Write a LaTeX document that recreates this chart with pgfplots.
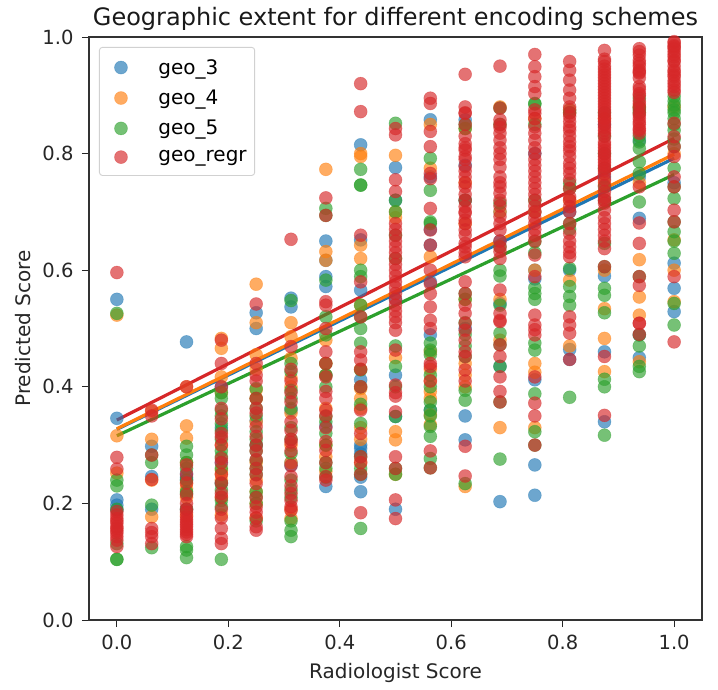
\documentclass[border=0pt]{standalone}
\usepackage{fontspec}
\setmainfont{DejaVu Sans}
\usepackage{pgfplots}
\pgfplotsset{compat=1.18}
\definecolor{tabblue}{HTML}{1F77B4}
\definecolor{taborange}{HTML}{FF7F0E}
\definecolor{tabgreen}{HTML}{2CA02C}
\definecolor{tabred}{HTML}{D62728}
\pgfplotsset{
  dots/.style={only marks, mark=*, mark size=6.5pt, color=#1, mark options={draw=#1, fill=#1, line width=0.6pt, fill opacity=0.65, draw opacity=0.4},
    legend image code/.code={\node[inner sep=0pt, minimum width=46pt, minimum height=2pt, draw=none, fill=none, opacity=0] at (0pt,0pt) {}; \draw[##1] plot coordinates {(16pt,0pt)};}},
  fit/.style={color=#1, line width=3.2pt, no marks, forget plot}
}
\begin{document}
\begin{tikzpicture}
\path[use as bounding box] (-89pt,-69pt) rectangle (629pt,620pt);
\begin{axis}[
  scale only axis, width=613pt, height=583pt,
  xmin=-0.05, xmax=1.05, ymin=0, ymax=1,
  xtick={0,0.2,0.4,0.6,0.8,1.0}, ytick={0,0.2,0.4,0.6,0.8,1.0},
  xticklabels={0.0,0.2,0.4,0.6,0.8,1.0}, yticklabels={0.0,0.2,0.4,0.6,0.8,1.0},
  tick align=outside, tick pos=left, major tick length=7pt,
  every tick/.style={black!85, line width=0.9pt},
  axis line style={black!80, line width=1.2pt},
  tick label style={font=\fontsize{19.5}{23}\selectfont, text=black!85},
  xticklabel style={yshift=-4pt},
  yticklabel style={xshift=-5pt},
  /pgf/number format/assume math mode=true,
  label style={font=\fontsize{20}{24}\selectfont, text=black!85},
  xlabel={Radiologist Score}, ylabel={Predicted Score},
  xlabel shift=7pt, ylabel shift=5pt,
  title={Geographic extent for different encoding schemes},
  title style={font=\fontsize{24}{28}\selectfont, yshift=-3pt, text=black!90},
  clip=true,
  legend style={at={(0.0163,0.983)}, anchor=north west, draw=black!18, line width=0.9pt, rounded corners=3pt,
    font=\fontsize{20}{24}\selectfont, row sep=10.3pt, inner xsep=6pt, inner ysep=10pt,
    /tikz/every odd column/.append style={column sep=5pt}},
  legend cell align=left,
]
\addplot[dots=tabblue] coordinates {
(0,.55)(0,.346)(0,.206)(0,.197)(0,.189)
(.0625,.298)(.0625,.246)(.0625,.19)
(.125,.477)(.125,.251)(.125,.245)(.125,.19)(.125,.24)
(.1875,.40)(.1875,.33)(.1875,.27)(.1875,.235)
(.25,.527)(.25,.50)(.25,.342)(.25,.30)
(.3125,.552)(.3125,.537)(.3125,.27)(.3125,.265)(.3125,.36)
(.375,.65)(.375,.617)(.375,.589)(.375,.572)(.375,.332)(.375,.229)(.375,.42)
(.4375,.815)(.4375,.652)(.4375,.566)(.4375,.412)(.4375,.294)(.4375,.285)(.4375,.245)(.4375,.22)(.4375,.30)
(.5,.776)(.5,.72)(.5,.55)(.5,.349)(.5,.19)(.5,.42)
(.5625,.858)(.5625,.76)(.5625,.67)(.5625,.643)(.5625,.36)(.5625,.489)(.5625,.58)
(.625,.858)(.625,.72)(.625,.35)(.625,.309)(.625,.50)(.625,.78)
(.6875,.543)(.6875,.70)(.6875,.435)(.6875,.203)(.6875,.65)
(.75,.70)(.75,.60)(.75,.585)(.75,.412)(.75,.266)(.75,.214)(.75,.80)
(.8125,.875)(.8125,.60)(.8125,.464)(.8125,.447)(.8125,.70)
(.875,.76)(.875,.59)(.875,.46)(.875,.34)(.875,.85)
(.9375,.823)(.9375,.689)(.9375,.489)(.9375,.45)(.9375,.76)
(1,.612)(1,.569)(1,.529)(1,.75)
};
\addlegendentry{geo\_3}
\addplot[dots=taborange] coordinates {
(0,.523)(0,.316)(0,.252)
(.0625,.358)(.0625,.31)(.0625,.177)(.0625,.24)
(.125,.40)(.125,.333)(.125,.312)(.125,.234)(.125,.225)(.125,.18)(.125,.21)(.125,.27)
(.1875,.483)(.1875,.466)(.1875,.417)(.1875,.257)(.1875,.25)(.1875,.18)(.1875,.39)(.1875,.30)(.1875,.24)(.1875,.21)
(.25,.576)(.25,.51)(.25,.455)(.25,.38)(.25,.34)(.25,.24)(.25,.20)(.25,.43)(.25,.395)(.25,.27)(.25,.22)(.25,.175)
(.3125,.51)(.3125,.486)(.3125,.449)(.3125,.174)(.3125,.40)(.3125,.30)(.3125,.415)(.3125,.355)(.3125,.27)(.3125,.19)
(.375,.773)(.375,.632)(.375,.617)(.375,.42)(.375,.363)(.375,.30)(.375,.48)(.375,.44)(.375,.28)(.375,.255)
(.4375,.80)(.4375,.795)(.4375,.643)(.4375,.62)(.4375,.397)(.4375,.38)(.4375,.363)(.4375,.27)(.4375,.54)(.4375,.43)(.4375,.33)(.4375,.31)
(.5,.797)(.5,.70)(.5,.69)(.5,.323)(.5,.309)(.5,.45)(.5,.25)
(.5625,.775)(.5625,.85)(.5625,.623)(.5625,.392)(.5625,.38)(.5625,.352)(.5625,.335)(.5625,.46)(.5625,.43)(.5625,.41)
(.625,.843)(.625,.75)(.625,.68)(.625,.42)(.625,.229)(.625,.55)(.625,.44)(.625,.40)
(.6875,.88)(.6875,.33)(.6875,.70)(.6875,.48)(.6875,.55)
(.75,.86)(.75,.70)(.75,.44)(.75,.425)(.75,.33)(.75,.60)
(.8125,.875)(.8125,.583)(.8125,.72)(.8125,.47)
(.875,.86)(.875,.60)(.875,.534)(.875,.483)(.875,.426)(.875,.75)
(.9375,.88)(.9375,.618)(.9375,.554)(.9375,.523)(.9375,.443)(.9375,.75)
(1,.80)(1,.652)(1,.60)(1,.546)(1,.88)
};
\addlegendentry{geo\_4}
\addplot[dots=tabgreen] coordinates {
(0,.526)(0,.24)(0,.23)(0,.19)(0,.131)(0,.104)(0,.104)
(.0625,.283)(.0625,.27)(.0625,.197)(.0625,.124)
(.125,.298)(.125,.283)(.125,.22)(.125,.217)(.125,.126)(.125,.12)(.125,.107)(.125,.19)(.125,.27)(.125,.26)(.125,.24)
(.1875,.39)(.1875,.38)(.1875,.36)(.1875,.35)(.1875,.337)(.1875,.234)(.1875,.223)(.1875,.194)(.1875,.205)(.1875,.104)(.1875,.325)(.1875,.31)(.1875,.29)(.1875,.28)(.1875,.26)
(.25,.397)(.25,.323)(.25,.274)(.25,.3)(.25,.29)(.25,.26)(.25,.211)(.25,.20)(.25,.363)(.25,.38)(.25,.35)(.25,.31)(.25,.25)(.25,.22)(.25,.17)
(.3125,.548)(.3125,.426)(.3125,.394)(.3125,.363)(.3125,.286)(.3125,.223)(.3125,.154)(.3125,.143)(.3125,.38)(.3125,.44)(.3125,.33)(.3125,.31)(.3125,.24)(.3125,.21)(.3125,.17)
(.375,.706)(.375,.694)(.375,.583)(.375,.489)(.375,.349)(.375,.34)(.375,.32)(.375,.27)(.375,.26)(.375,.245)(.375,.42)(.375,.52)(.375,.44)(.375,.40)(.375,.30)
(.4375,.773)(.4375,.746)(.4375,.746)(.4375,.589)(.4375,.50)(.4375,.475)(.4375,.429)(.4375,.337)(.4375,.25)(.4375,.157)(.4375,.60)(.4375,.54)(.4375,.52)(.4375,.40)(.4375,.37)(.4375,.28)(.4375,.26)
(.5,.852)(.5,.435)(.5,.349)(.5,.25)(.5,.26)(.5,.72)(.5,.70)(.5,.66)(.5,.62)(.5,.47)(.5,.40)
(.5625,.792)(.5625,.737)(.5625,.683)(.5625,.475)(.5625,.463)(.5625,.455)(.5625,.374)(.5625,.332)(.5625,.315)(.5625,.277)(.5625,.261)(.5625,.68)(.5625,.42)(.5625,.40)(.5625,.36)(.5625,.35)
(.625,.843)(.625,.56)(.625,.55)(.625,.452)(.625,.394)(.625,.377)(.625,.234)(.625,.85)(.625,.72)(.625,.51)(.625,.49)(.625,.47)
(.6875,.715)(.6875,.60)(.6875,.59)(.6875,.492)(.6875,.472)(.6875,.435)(.6875,.374)(.6875,.276)(.6875,.85)(.6875,.878)(.6875,.64)(.6875,.54)
(.75,.886)(.75,.885)(.75,.85)(.75,.649)(.75,.63)(.75,.57)(.75,.56)(.75,.55)(.75,.475)(.75,.463)(.75,.388)(.75,.323)(.75,.30)(.75,.72)
(.8125,.749)(.8125,.68)(.8125,.67)(.8125,.603)(.8125,.572)(.8125,.555)(.8125,.54)(.8125,.382)(.8125,.87)(.8125,.74)
(.875,.743)(.875,.72)(.875,.646)(.875,.606)(.875,.569)(.875,.557)(.875,.527)(.875,.413)(.875,.40)(.875,.317)(.875,.87)(.875,.83)(.875,.80)(.875,.775)
(.9375,.895)(.9375,.875)(.9375,.87)(.9375,.83)(.9375,.82)(.9375,.809)(.9375,.786)(.9375,.766)(.9375,.717)(.9375,.589)(.9375,.489)(.9375,.47)(.9375,.435)(.9375,.426)(.9375,.88)
(1,.898)(1,.89)(1,.883)(1,.875)(1,.87)(1,.86)(1,.84)(1,.825)(1,.812)(1,.775)(1,.743)(1,.723)(1,.683)(1,.666)(1,.629)(1,.543)(1,.506)(1,.85)(1,.65)
};
\addlegendentry{geo\_5}
\addplot[dots=tabred] coordinates {
(0,.596)(0,.279)(0,.259)(0,.186)(0,.18)(0,.174)(0,.17)(0,.166)(0,.16)(0,.157)(0,.153)(0,.149)(0,.143)(0,.137)(0,.126)
(.0625,.36)(.0625,.35)(.0625,.283)(.0625,.241)(.0625,.157)(.0625,.150)(.0625,.143)(.0625,.131)
(.125,.40)(.125,.266)(.125,.25)(.125,.2)(.125,.19)(.125,.185)(.125,.177)(.125,.172)(.125,.168)(.125,.164)(.125,.16)(.125,.155)(.125,.151)(.125,.147)(.125,.143)(.125,.235)(.125,.215)
(.1875,.48)(.1875,.44)(.1875,.40)(.1875,.363)(.1875,.32)(.1875,.314)(.1875,.30)(.1875,.277)(.1875,.27)(.1875,.217)(.1875,.211)(.1875,.157)(.1875,.14)(.1875,.131)(.1875,.345)(.1875,.25)(.1875,.235)(.1875,.19)(.1875,.175)
(.25,.542)(.25,.42)(.25,.41)(.25,.363)(.25,.355)(.25,.332)(.25,.30)(.25,.29)(.25,.26)(.25,.249)(.25,.234)(.25,.194)(.25,.185)(.25,.16)(.25,.154)(.25,.44)(.25,.38)(.25,.315)(.25,.275)(.25,.21)(.25,.175)
(.3125,.653)(.3125,.469)(.3125,.41)(.3125,.374)(.3125,.34)(.3125,.31)(.3125,.305)(.3125,.246)(.3125,.217)(.3125,.194)(.3125,.188)(.3125,.43)(.3125,.39)(.3125,.325)(.3125,.29)(.3125,.265)(.3125,.23)(.3125,.205)
(.375,.724)(.375,.694)(.375,.546)(.375,.54)(.375,.46)(.375,.417)(.375,.392)(.375,.38)(.375,.306)(.375,.291)(.375,.27)(.375,.246)(.375,.24)(.375,.50)(.375,.44)(.375,.36)(.375,.35)(.375,.33)
(.4375,.92)(.4375,.872)(.4375,.66)(.4375,.58)(.4375,.46)(.4375,.446)(.4375,.32)(.4375,.25)(.4375,.184)(.4375,.52)(.4375,.43)(.4375,.40)(.4375,.36)(.4375,.28)(.4375,.27)
(.5,.843)(.5,.832)(.5,.755)(.5,.735)(.5,.68)(.5,.67)(.5,.66)(.5,.65)(.5,.64)(.5,.63)(.5,.62)(.5,.61)(.5,.60)(.5,.59)(.5,.58)(.5,.57)(.5,.56)(.5,.55)(.5,.54)(.5,.53)(.5,.52)(.5,.51)(.5,.497)(.5,.463)(.5,.403)(.5,.39)(.5,.384)(.5,.357)(.5,.28)(.5,.26)(.5,.206)(.5,.174)
(.5625,.895)(.5625,.886)(.5625,.838)(.5625,.812)(.5625,.766)(.5625,.757)(.5625,.706)(.5625,.669)(.5625,.643)(.5625,.60)(.5625,.577)(.5625,.56)(.5625,.537)(.5625,.514)(.5625,.50)(.5625,.44)(.5625,.435)(.5625,.41)(.5625,.29)(.5625,.261)
(.625,.936)(.625,.88)(.625,.87)(.625,.869)(.625,.85)(.625,.83)(.625,.817)(.625,.81)(.625,.806)(.625,.795)(.625,.79)(.625,.778)(.625,.77)(.625,.76)(.625,.75)(.625,.743)(.625,.73)(.625,.72)(.625,.709)(.625,.70)(.625,.698)(.625,.686)(.625,.68)(.625,.669)(.625,.66)(.625,.646)(.625,.64)(.625,.63)(.625,.623)(.625,.58)(.625,.56)(.625,.54)(.625,.526)(.625,.509)(.625,.497)(.625,.48)(.625,.46)(.625,.452)(.625,.429)(.625,.41)(.625,.298)(.625,.247)
(.6875,.95)(.6875,.878)(.6875,.858)(.6875,.85)(.6875,.845)(.6875,.835)(.6875,.823)(.6875,.81)(.6875,.80)(.6875,.79)(.6875,.777)(.6875,.76)(.6875,.75)(.6875,.743)(.6875,.732)(.6875,.72)(.6875,.71)(.6875,.692)(.6875,.68)(.6875,.669)(.6875,.65)(.6875,.64)(.6875,.632)(.6875,.62)(.6875,.566)(.6875,.526)(.6875,.514)(.6875,.512)(.6875,.472)(.6875,.452)(.6875,.417)(.6875,.392)(.6875,.374)
(.75,.97)(.75,.949)(.75,.932)(.75,.915)(.75,.903)(.75,.875)(.75,.869)(.75,.86)(.75,.846)(.75,.835)(.75,.823)(.75,.81)(.75,.80)(.75,.79)(.75,.78)(.75,.77)(.75,.76)(.75,.75)(.75,.74)(.75,.73)(.75,.72)(.75,.71)(.75,.70)(.75,.69)(.75,.68)(.75,.67)(.75,.66)(.75,.65)(.75,.626)(.75,.589)(.75,.523)(.75,.506)(.75,.498)(.75,.489)(.75,.417)(.75,.372)(.75,.35)(.75,.30)
(.8125,.958)(.8125,.943)(.8125,.926)(.8125,.909)(.8125,.895)(.8125,.88)(.8125,.87)(.8125,.864)(.8125,.855)(.8125,.846)(.8125,.84)(.8125,.83)(.8125,.82)(.8125,.812)(.8125,.805)(.8125,.795)(.8125,.783)(.8125,.775)(.8125,.766)(.8125,.755)(.8125,.74)(.8125,.726)(.8125,.72)(.8125,.709)(.8125,.70)(.8125,.68)(.8125,.663)(.8125,.65)(.8125,.64)(.8125,.63)(.8125,.623)(.8125,.52)(.8125,.506)(.8125,.492)(.8125,.447)
(.875,.977)(.875,.962)(.875,.958)(.875,.95)(.875,.945)(.875,.94)(.875,.935)(.875,.93)(.875,.925)(.875,.92)(.875,.915)(.875,.91)(.875,.905)(.875,.90)(.875,.895)(.875,.89)(.875,.885)(.875,.88)(.875,.875)(.875,.87)(.875,.865)(.875,.86)(.875,.855)(.875,.85)(.875,.845)(.875,.84)(.875,.835)(.875,.83)(.875,.82)(.875,.815)(.875,.81)(.875,.805)(.875,.80)(.875,.795)(.875,.79)(.875,.785)(.875,.78)(.875,.775)(.875,.77)(.875,.765)(.875,.755)(.875,.745)(.875,.735)(.875,.725)(.875,.72)(.875,.715)(.875,.703)(.875,.69)(.875,.68)(.875,.67)(.875,.66)(.875,.65)(.875,.637)(.875,.606)(.875,.452)(.875,.351)
(.9375,.98)(.9375,.975)(.9375,.969)(.9375,.96)(.9375,.955)(.9375,.95)(.9375,.943)(.9375,.94)(.9375,.938)(.9375,.93)(.9375,.915)(.9375,.91)(.9375,.903)(.9375,.90)(.9375,.89)(.9375,.885)(.9375,.878)(.9375,.87)(.9375,.866)(.9375,.86)(.9375,.854)(.9375,.85)(.9375,.843)(.9375,.84)(.9375,.835)(.9375,.743)(.9375,.681)(.9375,.646)(.9375,.589)(.9375,.574)(.9375,.509)(.9375,.509)(.9375,.49)
(1,.992)(1,.99)(1,.985)(1,.983)(1,.98)(1,.975)(1,.97)(1,.966)(1,.96)(1,.958)(1,.95)(1,.943)(1,.94)(1,.935)(1,.932)(1,.925)(1,.92)(1,.915)(1,.909)(1,.905)(1,.852)(1,.829)(1,.812)(1,.795)(1,.76)(1,.743)(1,.703)(1,.683)(1,.589)(1,.477)
};
\addlegendentry{geo\_regr}
\addplot[fit=tabblue] coordinates {(0,.327)(1,.792)};
\addplot[fit=taborange] coordinates {(0,.328)(1,.799)};
\addplot[fit=tabgreen] coordinates {(0,.316)(1,.764)};
\addplot[fit=tabred] coordinates {(0,.343)(1,.826)};
\end{axis}
\end{tikzpicture}
\end{document}
